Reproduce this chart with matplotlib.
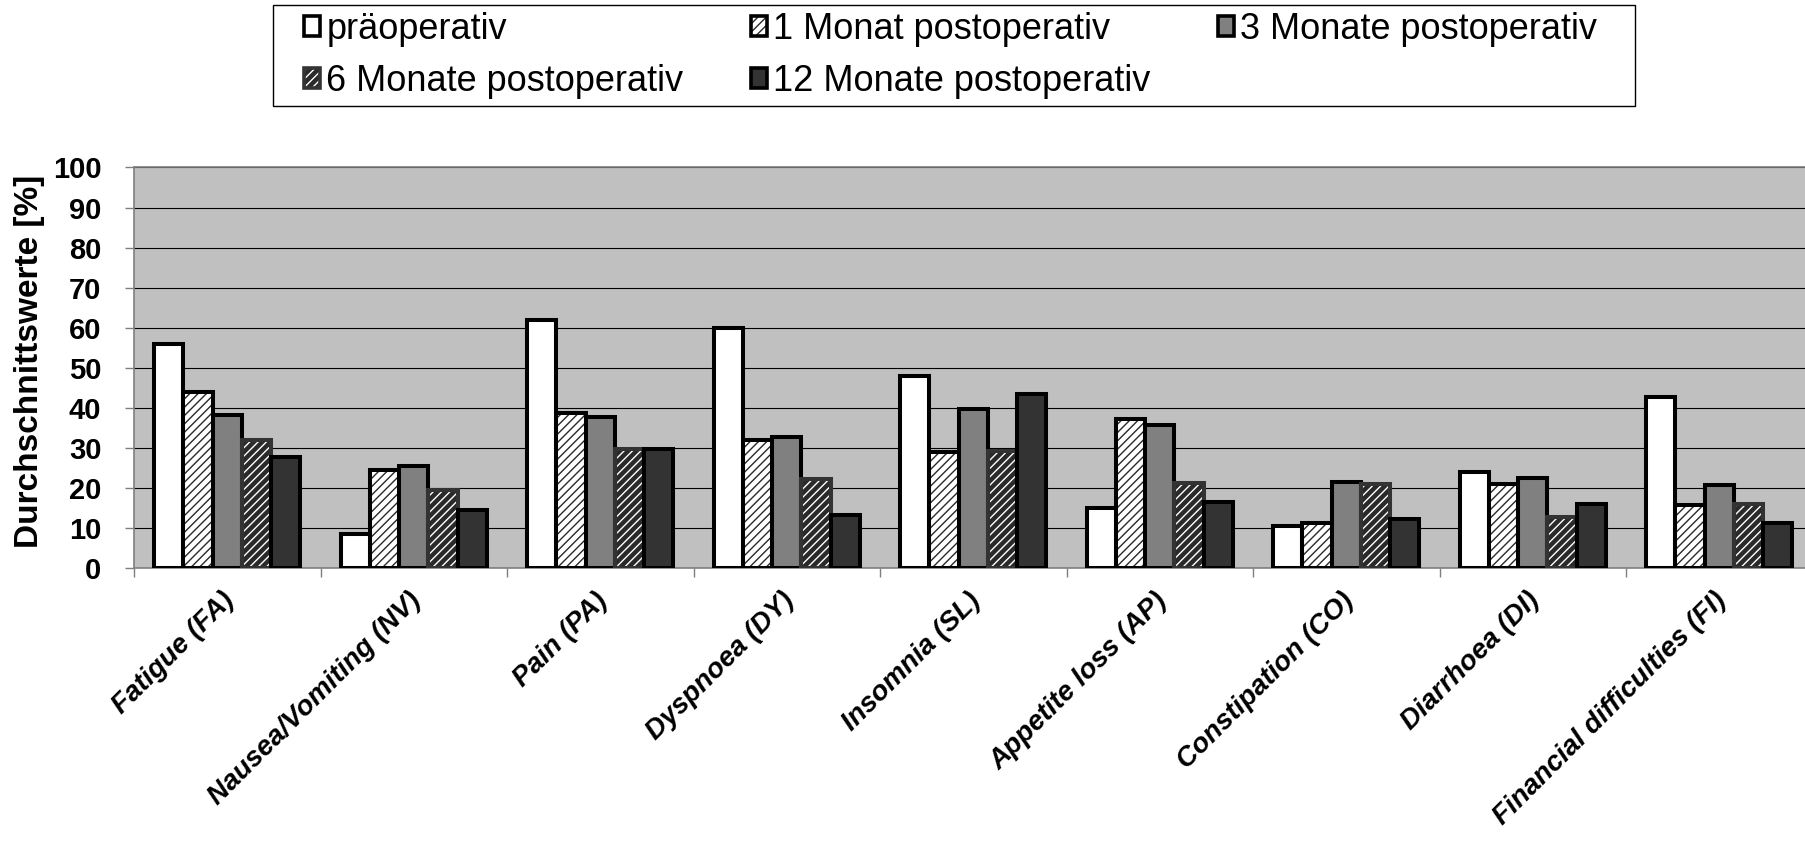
import numpy as np
import matplotlib
matplotlib.use("Agg")
import matplotlib.pyplot as plt
import matplotlib.patches as mpatches
import matplotlib.transforms as mtransforms

plt.rcParams["font.family"] = ["Liberation Sans", "DejaVu Sans"]
plt.rcParams["hatch.linewidth"] = 1.0

# Data
categories = ["Fatigue (FA)", "Nausea/Vomiting (NV)", "Pain (PA)",
              "Dyspnoea (DY)", "Insomnia (SL)", "Appetite loss (AP)",
              "Constipation (CO)", "Diarrhoea (DI)",
              "Financial difficulties (FI)"]
series_labels = ["präoperativ", "1 Monat postoperativ", "3 Monate postoperativ",
                 "6 Monate postoperativ", "12 Monate postoperativ"]
pre = [56, 8.6, 62, 60, 48, 15, 10.6, 24, 42.6]
m1 = [44, 24.4, 38.7, 32, 29, 37.3, 11.3, 21, 15.7]
m3 = [38.3, 25.4, 37.7, 32.6, 39.8, 35.8, 21.5, 22.4, 20.7]
m6 = [31.9, 19.5, 29.6, 22.1, 29.3, 21.3, 20.9, 12.8, 16.1]
m12 = [27.8, 14.5, 29.8, 13.2, 43.4, 16.5, 12.2, 15.9, 11.3]
values = [pre, m1, m3, m6, m12]

# styles: facecolor, hatch, hatch colour, edge colour
styles = [
    ("white", None, None, "black"),
    ("white", "////", "#2a2a2a", "black"),
    ("#808080", None, None, "black"),
    ("#2a2a2a", "////", "white", "#333333"),
    ("#333333", None, None, "black"),
]

W, H = 1806, 841
fig = plt.figure(figsize=(W / 100, H / 100), dpi=100)
ax = fig.add_axes([134 / W, (H - 568) / H, 9 * 186.5 / W, 400.5 / H])
ax.set_facecolor("#c0c0c0")

x = np.arange(len(categories))
bw = 0.1566
handles = []
for i, (vals, (fc, hatch, hc, ec)) in enumerate(zip(values, styles)):
    pos = x + (i - 2) * bw
    if hatch:
        ax.bar(pos, vals, bw, color=fc, hatch=hatch, edgecolor=hc,
               linewidth=0, zorder=3)
        ax.bar(pos, vals, bw, fill=False, edgecolor=ec, linewidth=2.9,
               zorder=4)
        h = (mpatches.Patch(facecolor=fc, hatch=hatch, edgecolor=hc, lw=0),
             mpatches.Patch(facecolor="none", edgecolor=ec, lw=2.6))
    else:
        ax.bar(pos, vals, bw, color=fc, edgecolor=ec, linewidth=2.9,
               zorder=4)
        h = mpatches.Patch(facecolor=fc, edgecolor=ec, lw=2.6)
    handles.append(h)

ax.set_xlim(-0.5, len(categories) - 0.5)
ax.set_ylim(0, 100)
ax.set_yticks(np.arange(0, 101, 10))
ax.yaxis.grid(True, color="black", linewidth=0.8)
ax.set_axisbelow(True)

for side in ["left", "bottom", "top", "right"]:
    ax.spines[side].set_color("#7f7f7f")
    ax.spines[side].set_linewidth(1.2)

ax.tick_params(axis="y", length=6.5, width=1, color="#7f7f7f", pad=17,
               labelsize=21)
for lab in ax.get_yticklabels():
    lab.set_fontweight("bold")

ax.set_xticks(x)
ax.set_xticks(np.arange(len(categories) + 1) - 0.5, minor=True)
ax.tick_params(axis="x", which="major", length=0, pad=14)
ax.tick_params(axis="x", which="minor", length=6.5, width=1, color="#7f7f7f")
ax.set_xticklabels(categories, rotation=45, ha="right", va="top",
                   rotation_mode="anchor", fontsize=20, fontweight="bold",
                   fontstyle="italic")
shift = mtransforms.ScaledTranslation(-0.06, 0, fig.dpi_scale_trans)
for lab in ax.get_xticklabels():
    lab.set_transform(lab.get_transform() + shift)

ax.set_ylabel("Durchschnittswerte [%]", fontsize=24, fontweight="bold")
ax.yaxis.set_label_coords(-0.053, 0.515)

# legend: row-major order like the original
order = [0, 3, 1, 4, 2]
fig.legend([handles[k] for k in order], [series_labels[k] for k in order],
           ncol=3, loc="upper left", mode="expand",
           bbox_to_anchor=(304 / W, 1 - 12 / H, 1293 / W, 0),
           frameon=False, fontsize=26, handlelength=0.45, handleheight=0.45,
           handletextpad=0.17, borderpad=0, borderaxespad=0,
           labelspacing=0.47)
fig.patches.append(mpatches.Rectangle((273 / W, 1 - 106 / H), 1362 / W,
                                      101 / H, transform=fig.transFigure,
                                      fill=False, edgecolor="black", lw=1))

fig.savefig("out.png", dpi=100)
